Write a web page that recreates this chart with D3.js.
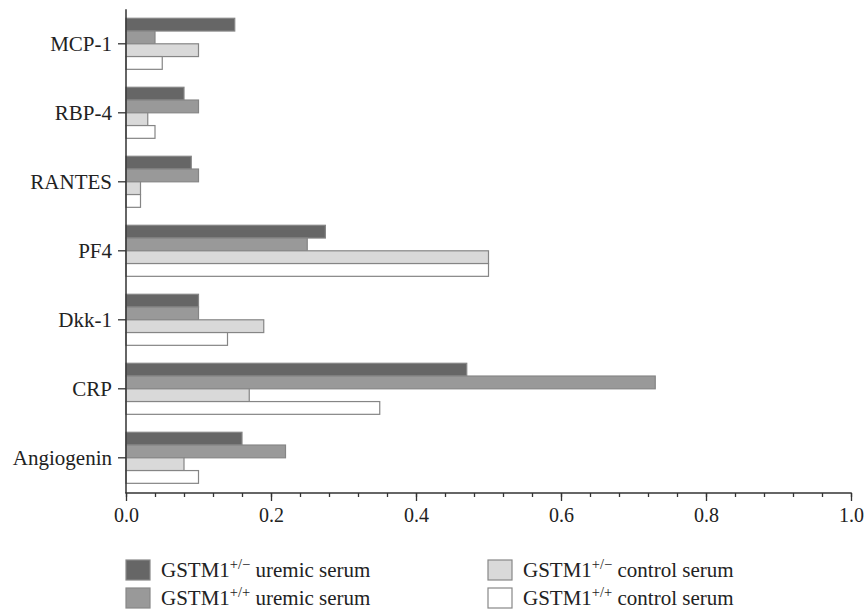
<!DOCTYPE html>
<html><head><meta charset="utf-8">
<script src="https://cdn.jsdelivr.net/npm/d3@7"></script>
<style>body{margin:0;background:#fff}svg{display:block}</style>
</head><body>
<script>
const categories = ["MCP-1","RBP-4","RANTES","PF4","Dkk-1","CRP","Angiogenin"];
const seriesNames = ["GSTM1+/− uremic serum","GSTM1+/+ uremic serum","GSTM1+/− control serum","GSTM1+/+ control serum"];
const hetUremic  = [0.15, 0.08, 0.09, 0.275, 0.10, 0.47, 0.16];
const homUremic  = [0.04, 0.10, 0.10, 0.25, 0.10, 0.73, 0.22];
const hetControl = [0.10, 0.03, 0.02, 0.50, 0.19, 0.17, 0.08];
const homControl = [0.05, 0.04, 0.02, 0.50, 0.14, 0.35, 0.10];
const xTicks = [0.0, 0.2, 0.4, 0.6, 0.8, 1.0];
const series = [hetUremic, homUremic, hetControl, homControl];
const fills = ["#666666","#999999","#d9d9d9","#ffffff"];
const legendParts = [["+/−","uremic serum"],["+/+","uremic serum"],["+/−","control serum"],["+/+","control serum"]];

const W=866,H=612;
const svg=d3.select("body").append("svg").attr("width",W).attr("height",H);
const font="'Liberation Serif', 'DejaVu Serif', serif";
const axisY=493;
const x=d3.scaleLinear().domain([0,1]).range([126,851]);
const y=d3.scaleBand().domain(categories).range([9.3,492.3]).paddingInner(0.26).paddingOuter(0.13);
const inner=d3.scaleBand().domain(d3.range(4)).range([0,y.bandwidth()]);

const g=svg.append("g");
categories.forEach((c,i)=>{
  series.forEach((s,k)=>{
    g.append("rect")
      .attr("x",x(0)).attr("y",y(c)+inner(k))
      .attr("width",x(s[i])-x(0)).attr("height",inner.bandwidth())
      .attr("fill",fills[k]).attr("stroke","#858585").attr("stroke-width",1.2);
  });
});

// x axis
const xa=svg.append("g").attr("transform",`translate(0,${axisY})`);
xa.append("g").call(d3.axisBottom(x).tickValues(d3.range(0,1.0001,0.04)).tickSize(4).tickFormat(""));
xa.append("g").call(d3.axisBottom(x).tickValues(xTicks).tickSize(8).tickPadding(7).tickFormat(d3.format(".1f")));
xa.selectAll("path.domain").remove();
xa.append("line").attr("x1",x(0)-0.75).attr("x2",x(1)+0.75).attr("stroke","#333").attr("stroke-width",1.5);
xa.selectAll(".tick line").attr("stroke","#333").attr("stroke-width",1.3);
xa.selectAll("text").attr("font-family",font).attr("font-size",20).attr("fill","#222");

// y axis
const ya=svg.append("g").attr("transform",`translate(${x(0)},0)`);
ya.call(d3.axisLeft(y).tickSize(8).tickPadding(6));
ya.select("path.domain").remove();
ya.append("line").attr("y1",9.3).attr("y2",axisY).attr("stroke","#333").attr("stroke-width",1.5);
ya.selectAll(".tick line").attr("stroke","#333").attr("stroke-width",1.3);
ya.selectAll("text").attr("font-family",font).attr("font-size",21).attr("fill","#222");

// legend
const lg=svg.append("g");
const pos=[[126,560],[126,588],[488,560],[488,588]];
seriesNames.forEach((n,k)=>{
  const [lx,ly]=pos[k];
  lg.append("rect").attr("x",lx).attr("y",ly).attr("width",24).attr("height",20)
    .attr("fill",fills[k]).attr("stroke","#888").attr("stroke-width",1.2);
  const t=lg.append("text").attr("x",lx+35).attr("y",ly+17).attr("font-family",font)
    .attr("font-size",21).attr("fill","#222");
  t.append("tspan").text("GSTM1");
  t.append("tspan").attr("dy",-8).attr("font-size",14.5).text(legendParts[k][0]);
  t.append("tspan").attr("dy",8).text(" "+legendParts[k][1]);
});
</script>
</body></html>
